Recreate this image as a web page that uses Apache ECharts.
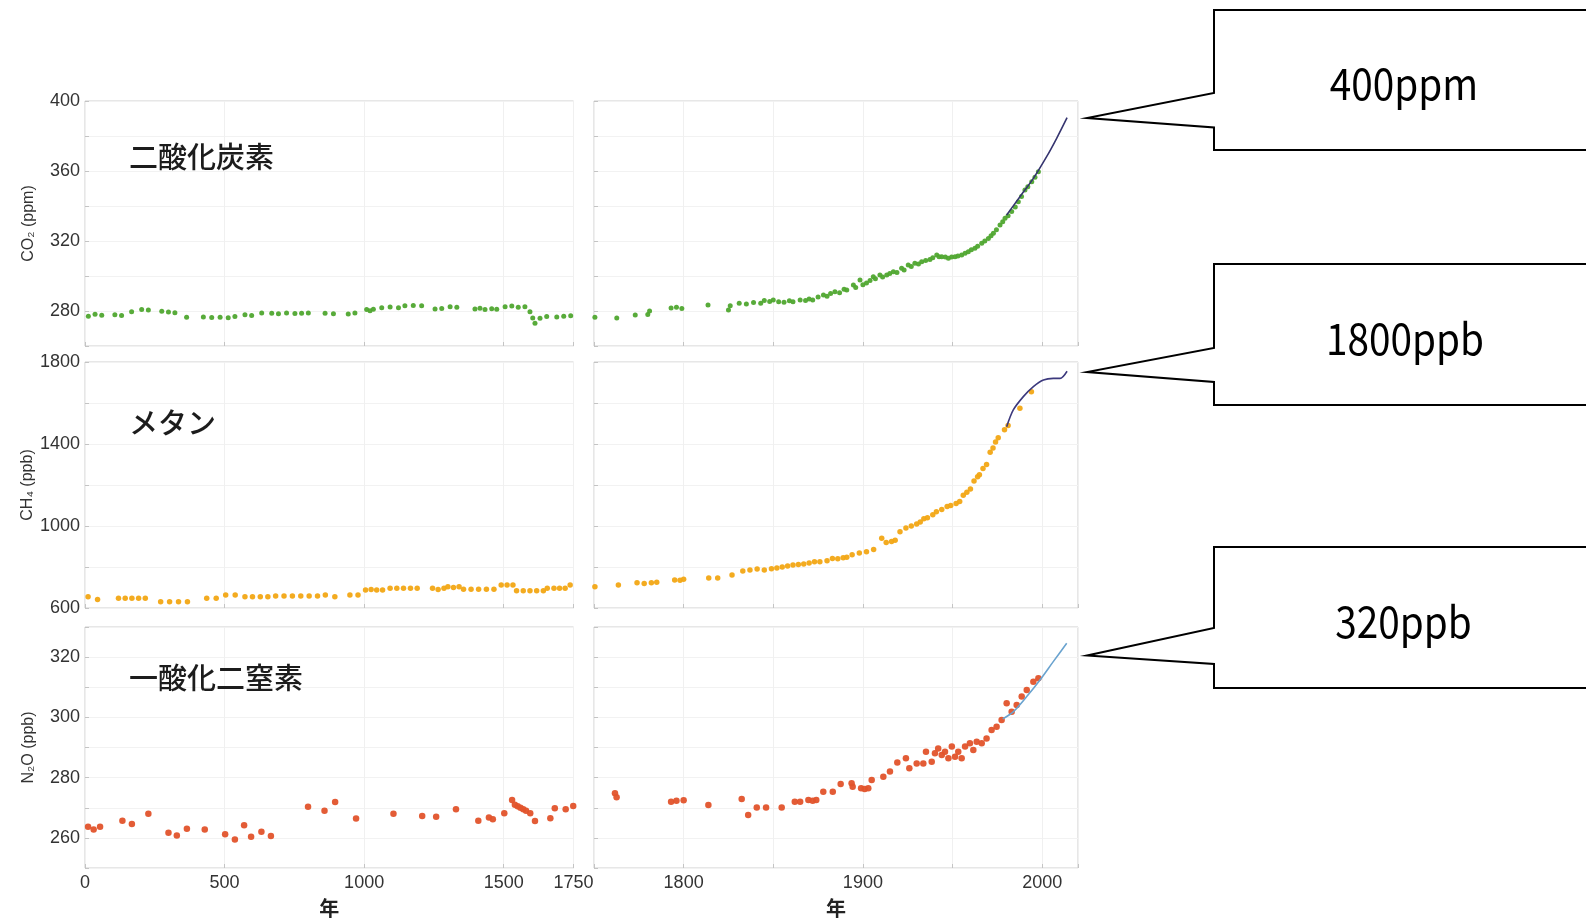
<!DOCTYPE html>
<html><head><meta charset="utf-8">
<script src="https://cdn.jsdelivr.net/npm/echarts@6/dist/echarts.min.js"></script>
<style>html,body{margin:0;padding:0;background:#fff;}#c{width:1586px;height:924px;}</style>
</head><body><div id="c"></div>
<script>
// ---------- DATA ----------
const gasNames = ['二酸化炭素', 'メタン', '一酸化二窒素'];
const axisNames = ['CO₂ (ppm)', 'CH₄ (ppb)', 'N₂O (ppb)'];
const calloutTexts = ['400ppm', '1800ppb', '320ppb'];
const leftYearTicks = [0, 500, 1000, 1500, 1750];
const rightYearTicks = [1800, 1900, 2000];
const co2Ticks = [280, 320, 360, 400];
const ch4Ticks = [600, 1000, 1400, 1800];
const n2oTicks = [260, 280, 300, 320];

// ice core / firn samples [year, value]
const co2Ice = [[12,277.0],[36,278.2],[60,277.6],[107,277.8],[131,277.5],[167,279.6],[203,280.8],[227,280.6],[275,279.8],[299,279.4],[322,279.0],[364,276.4],[424,276.6],[454,276.3],[484,276.5],[513,276.2],[537,276.8],[573,277.9],[597,277.5],[633,278.9],[669,278.7],[693,278.5],[722,278.8],[752,278.6],[776,278.7],[800,278.9],[860,278.7],[890,278.5],[943,278.3],[967,278.9],[1009,280.9],[1021,280.2],[1033,281.0],[1063,281.9],[1093,282.3],[1123,281.8],[1146,283.0],[1176,283.2],[1206,283.0],[1254,281.1],[1278,281.4],[1308,282.5],[1332,282.2],[1397,281.1],[1415,281.6],[1433,280.8],[1457,281.3],[1475,281.0],[1505,282.5],[1529,282.8],[1552,282.1],[1576,282.5],[1594,279.6],[1604,276.0],[1612,273.0],[1630,275.8],[1654,276.8],[1690,276.6],[1715,277.0],[1740,277.3],
[1750.5,276.4],[1762.7,276.0],[1773,277.7],[1780,278.0],[1781,280.0],[1793,281.7],[1796,282.2],[1799,281.5],[1813.6,283.4],[1825,280.6],[1826,283.0],[1831,284.5],[1835,284.0],[1839,284.8],[1843,284.5],[1845,286.0],[1848,285.5],[1850,286.3],[1853,285.3],[1856,285.0],[1859,285.8],[1861,285.3],[1865,286.3],[1868,286.0],[1870,286.8],[1872,286.3],[1875,288.0],[1878,289.1],[1880,288.5],[1882,290.0],[1884.4,291.0],[1887,290.5],[1889.5,292.4],[1891,292.0],[1894.7,294.9],[1896,293.5],[1898.4,297.7],[1900,295.0],[1902,296.0],[1904,297.5],[1905.8,299.6],[1907,298.5],[1909.5,300.6],[1911,299.5],[1913.3,300.6],[1915,301.5],[1917,302.5],[1919,302.0],[1921.6,304.4],[1923,303.5],[1925.3,306.3],[1927,305.5],[1929,307.3],[1931,306.8],[1932.8,308.2],[1935,308.8],[1937.4,309.5],[1939,310.5],[1941.2,312.0],[1942.5,311.0],[1944,311.0],[1946,310.8],[1947.7,310.1],[1949.5,310.8],[1951.4,311.0],[1953,311.5],[1955.1,312.0],[1957,313.0],[1958.8,313.9],[1960.5,315.0],[1962.5,315.8],[1964,317.0],[1966.3,318.7],[1968,320.0],[1970,321.5],[1971.5,323.0],[1972.8,324.4],[1974.5,326.5],[1976.5,329.1],[1978,331.0],[1979.3,333.0],[1981,334.5],[1983,336.8],[1985,339.5],[1986.7,342.5],[1988.5,345.5],[1990.4,349.1],[1992,351.0],[1994.2,353.9],[1996,356.5],[1997.9,359.6]];
const co2Atm = [[1980.2,334.9],[1987.6,345.3],[1995.1,355.8],[2002.5,368.2],[2008.1,378.7],[2013.9,390.5]];

const ch4Ice = [[11,655],[45,642],[120,647],[144,647],[168,647],[192,647],[216,647],[271,631],[303,631],[335,631],[367,631],[436,647],[470,647],[504,663],[538,663],[573,655],[600,655],[628,655],[655,655],[683,658],[713,658],[743,658],[773,658],[803,658],[833,658],[861,663],[895,655],[949,663],[978,663],[1005,688],[1025,690],[1045,688],[1066,688],[1093,696],[1117,696],[1141,696],[1166,696],[1190,696],[1245,696],[1265,690],[1286,696],[1300,704],[1320,700],[1340,704],[1356,691],[1383,691],[1410,691],[1438,691],[1465,691],[1491,712],[1512,712],[1533,712],[1546,684],[1570,684],[1594,684],[1618,684],[1642,684],[1656,696],[1680,696],[1700,696],[1720,696],[1738,712],
[1750.5,704],[1763.6,712],[1774,723],[1778,720],[1782,723],[1785,726],[1795,737],[1798,735],[1800,740],[1814,746],[1819,746],[1827,761],[1833,780],[1837,785],[1841,790],[1845,785],[1849,792],[1852,795],[1855,800],[1858,805],[1861,810],[1864,812],[1867,815],[1870,820],[1873,826],[1876,826],[1880,830],[1883,842],[1886,840],[1889,845],[1891,848],[1894,860],[1898,868],[1902,875],[1906,885],[1910.5,940],[1913,920],[1916,925],[1918,930],[1920.7,972],[1924,990],[1927,1000],[1930,1010],[1932,1020],[1934,1035],[1936,1040],[1939,1055],[1941,1070],[1944,1080],[1947,1095],[1949,1100],[1952,1110],[1954,1120],[1956,1150],[1958,1165],[1960,1180],[1962,1220],[1964,1240],[1965,1250],[1967,1280],[1969,1300],[1971,1360],[1972.6,1380],[1974,1410],[1975.5,1430],[1979,1470],[1981,1490],[1987.6,1574],[1994,1655]];
const ch4Atm = [[1980.2,1484],[1983.9,1566],[1989.5,1631],[1995.1,1680],[2000.7,1712],[2006.2,1720],[2010,1720],[2013.9,1755]];

const n2oIce = [[11,263.7],[31,262.8],[54,263.7],[134,265.7],[168,264.6],[227,268],[299,261.7],[329,260.8],[365,263],[429,262.8],[502,261.2],[537,259.5],[570,264.2],[595,260.4],[632,262],[666,260.6],[799,270.3],[858,269],[896,271.9],[971,266.4],[1105,268],[1208,267.3],[1258,267],[1329,269.5],[1409,265.7],[1447,266.8],[1461,266.2],[1502,268.2],[1530,272.6],[1540,271],[1550,270.5],[1560,270],[1570,269.5],[1580,269],[1595,268.2],[1612,265.6],[1667,266.5],[1683,269.8],[1722,269.5],[1749,270.6],
[1761.7,274.8],[1762.6,273.5],[1793,272],[1796,272.3],[1800,272.5],[1813.8,270.9],[1832.4,272.9],[1836,267.6],[1840.8,270.1],[1846,270.1],[1854.7,270.1],[1862,272],[1865,272],[1869.6,272.6],[1872,272.3],[1874,272.6],[1877.9,275.3],[1883.2,275.3],[1887.6,277.9],[1893.7,278.1],[1894.3,277],[1899,276.5],[1901,276.2],[1903,276.5],[1904.9,279.2],[1911.4,280.3],[1915.1,282],[1919.2,285],[1924,286.4],[1925.9,283.1],[1930,284.7],[1933.7,284.7],[1935.2,288.6],[1938.4,285.3],[1940.2,288.1],[1942,289.7],[1944,287.5],[1945.8,288.6],[1947.7,286.4],[1949.6,290.3],[1951.4,286.9],[1953.2,288.6],[1955.1,286.4],[1957,290.3],[1959.7,291.4],[1961.6,289.2],[1963.5,291.9],[1966.3,291.4],[1969,293],[1971.8,295.8],[1974.6,296.9],[1977.4,299.1],[1980.2,304.7],[1983,301.9],[1985.8,304.1],[1988.6,306.9],[1991.4,309.1],[1995.1,311.8],[1997.9,313]];
const n2oAtm = [[1978,299.5],[1984,301.9],[1991.4,306.9],[1998.8,312.4],[2006.2,318.5],[2013.7,324.6]];

// ---------- LAYOUT / STYLE ----------
const rowsY = [{top:101,height:245},{top:362,height:246},{top:627,height:241}];
const colsX = [{left:85,width:488.5},{left:594,width:484}];
const yRanges = [{min:260,max:400,interval:20,ticks:co2Ticks},{min:600,max:1800,interval:200,ticks:ch4Ticks},{min:250,max:330,interval:10,ticks:n2oTicks}];
const dotColors = ['#4fa72f', '#f2a614', '#e2532b'];
const lineColors = ['#35346f', '#3c397d', '#6aa3cf'];
const dotSizes = [5, 5.5, 6.5];
const iceSets = [co2Ice, ch4Ice, n2oIce];
const atmSets = [co2Atm, ch4Atm, n2oAtm];
const numFont = '"Liberation Sans", Arial, sans-serif';
const jpFont = '"Noto Sans CJK JP", sans-serif';

const grid = [], xAxis = [], yAxis = [], series = [];
for (let r = 0; r < 3; r++) {
  for (let c = 0; c < 2; c++) {
    const gi = r * 2 + c;
    grid.push({left: colsX[c].left, width: colsX[c].width, top: rowsY[r].top, height: rowsY[r].height,
      show: true, borderColor: '#cfcfcf', borderWidth: 1, backgroundColor: 'transparent'});
    const bottom = r === 2;
    xAxis.push({
      type: 'value', gridIndex: gi,
      min: c ? 1750 : 0, max: c ? 2020 : 1750, interval: c ? 50 : 500,
      axisLine: {show: false},
      axisTick: {show: true, inside: true, length: 4, lineStyle: {color: '#c4c4c4'}},
      axisLabel: {show: bottom, margin: 6, color: '#333', fontFamily: numFont, fontSize: 18,
        formatter: v => (c ? rightYearTicks : leftYearTicks).includes(v) ? String(v) : ''},
      splitLine: {show: true, lineStyle: {color: '#f0f0f0'}},
      name: bottom ? '年' : '', nameLocation: 'middle', nameGap: 30,
      nameTextStyle: {color: '#222', fontFamily: jpFont, fontSize: 20, fontWeight: 'bold'}
    });
    const yr = yRanges[r];
    yAxis.push({
      type: 'value', gridIndex: gi, min: yr.min, max: yr.max, interval: yr.interval,
      axisLine: {show: false},
      axisTick: {show: true, inside: true, length: 4, lineStyle: {color: '#c4c4c4'}},
      axisLabel: {show: c === 0, margin: 5, color: '#333', fontFamily: numFont, fontSize: 18,
        formatter: v => yr.ticks.includes(v) ? String(v) : ''},
      splitLine: {show: true, lineStyle: {color: '#f2f2f2'}},
      name: c === 0 ? axisNames[r] : '', nameLocation: 'middle', nameGap: 48,
      nameTextStyle: {color: '#333', fontFamily: numFont, fontSize: 16}
    });
    const ice = iceSets[r].filter(d => c ? d[0] >= 1750 : d[0] <= 1750);
    series.push({type: 'scatter', xAxisIndex: gi, yAxisIndex: gi, data: ice, symbol: 'circle',
      symbolSize: dotSizes[r], itemStyle: {color: dotColors[r], opacity: 0.95}, silent: true, animation: false});
    if (c === 1) {
      series.push({type: 'line', xAxisIndex: gi, yAxisIndex: gi, data: atmSets[r], smooth: 0.3,
        showSymbol: false, lineStyle: {color: lineColors[r], width: 1.6}, silent: true, animation: false, z: 3});
    }
  }
}

// panel titles
const titlePos = [157, 423, 678];
const graphic = gasNames.map((t, i) => ({type: 'text', x: 129, y: titlePos[i], z: 10,
  style: {text: t, font: '500 29px ' + jpFont, fill: '#1c1c1c', align: 'left', verticalAlign: 'middle'}}));

// callouts
const callouts = [
  {top: 10, bottom: 150, b1: 93, b2: 127.5, tipY: 118, ty: 84, tx: 1404},
  {top: 264, bottom: 405, b1: 348, b2: 382, tipY: 372, ty: 339, tx: 1405},
  {top: 547, bottom: 688, b1: 628, b2: 664, tipY: 655.5, ty: 622, tx: 1403.5}
];
callouts.forEach((cb, i) => {
  graphic.push({type: 'polygon', z: 20, shape: {points: [[1214, cb.top], [1600, cb.top], [1600, cb.bottom], [1214, cb.bottom], [1214, cb.b2], [1087, cb.tipY], [1214, cb.b1]]},
    style: {fill: '#fff', stroke: '#000', lineWidth: 2}});
  graphic.push({type: 'text', z: 21, x: cb.tx, y: cb.ty, scaleX: 0.9, scaleY: 1,
    style: {text: calloutTexts[i], font: '400 43px ' + jpFont, fill: '#000', align: 'center', verticalAlign: 'middle'}});
});

const chart = echarts.init(document.getElementById('c'), null, {renderer: 'canvas'});
chart.setOption({animation: false, backgroundColor: '#fff', grid, xAxis, yAxis, series, graphic});
</script></body></html>
